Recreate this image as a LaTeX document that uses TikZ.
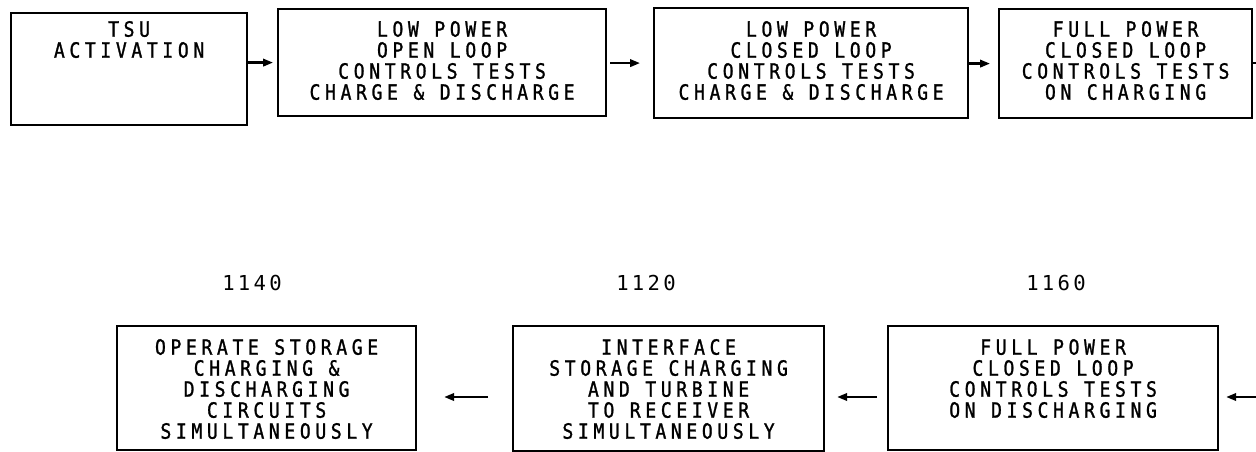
\documentclass[tikz,border=0pt]{standalone}
\usepackage{fontspec}
\usetikzlibrary{arrows.meta}
\newfontfamily\plotfont[LetterSpace=22,FakeStretch=0.86,FakeBold=1.2]{DejaVu Sans Mono}
\newfontfamily\numfont[LetterSpace=16]{DejaVu Sans Mono}
\newcommand\blocktext[4]{\parbox[c][#2pt][t]{#1pt}{\centering\vspace*{#3pt}#4}}
\tikzset{
  blk/.style={draw, line width=2.2pt, inner sep=0pt, anchor=north west,
    font=\plotfont\fontsize{21pt}{21pt}\selectfont},
  num/.style={font=\numfont\fontsize{20.6pt}{21pt}\selectfont},
  wire/.style={line width=2.2pt},
  arr/.style={line width=2.2pt, -{Triangle[length=10pt,width=7.5pt]}}
}
\begin{document}
\begin{tikzpicture}[x=1pt,y=-1pt]
\useasboundingbox (0,0) rectangle (1256,452);
% top row
\node[blk] (b1) at (10,12) {\blocktext{236}{112}{8}{TSU\\ACTIVATION}};
\node[blk] (b2) at (277,8) {\blocktext{328}{107}{12}{LOW POWER\\OPEN LOOP\\CONTROLS TESTS\\CHARGE \& DISCHARGE}};
\node[blk] (b3) at (653,7) {\blocktext{314}{110}{13}{LOW POWER\\CLOSED LOOP\\CONTROLS TESTS\\CHARGE \& DISCHARGE}};
\node[blk] (b4) at (998,8) {\blocktext{253}{109}{12}{FULL POWER\\CLOSED LOOP\\CONTROLS TESTS\\ON CHARGING}};
% bottom row
\node[blk] (b5) at (116,325) {\blocktext{299}{124}{13}{OPERATE STORAGE\\CHARGING \&\\DISCHARGING\\CIRCUITS\\SIMULTANEOUSLY}};
\node[blk] (b6) at (512,325) {\blocktext{311}{125}{13}{INTERFACE\\STORAGE CHARGING\\AND TURBINE\\TO RECEIVER\\SIMULTANEOUSLY}};
\node[blk] (b7) at (887,325) {\blocktext{330}{124}{13}{FULL POWER\\CLOSED LOOP\\CONTROLS TESTS\\ON DISCHARGING}};
% labels
\node[num] (n1140) at (252,283) {1140};
\node[num] (n1120) at (646,283) {1120};
\node[num] (n1160) at (1056,283) {1160};
% connectors
\coordinate (outT) at (1256,63);
\coordinate (inB) at (1256,397);
\draw[arr, shorten >=4pt] (b1.east |- b2.west) -- (b2.west);
\draw[arr, shorten <=3pt, shorten >=13pt] (b2.east |- b3.west) -- (b3.west);
\draw[arr, shorten >=8pt] (b3.east |- b4.west) -- (b4.west);
\draw[wire] (b4.east |- outT) -- (outT);
\draw[arr, shorten >=7pt] (inB) -- (b7.east |- inB);
\draw[arr, shorten <=10pt, shorten >=12pt] (b7.west |- inB) -- (b6.east |- inB);
\draw[arr, shorten <=24pt, shorten >=27pt] (b6.west |- inB) -- (b5.east |- inB);
\end{tikzpicture}
\end{document}
